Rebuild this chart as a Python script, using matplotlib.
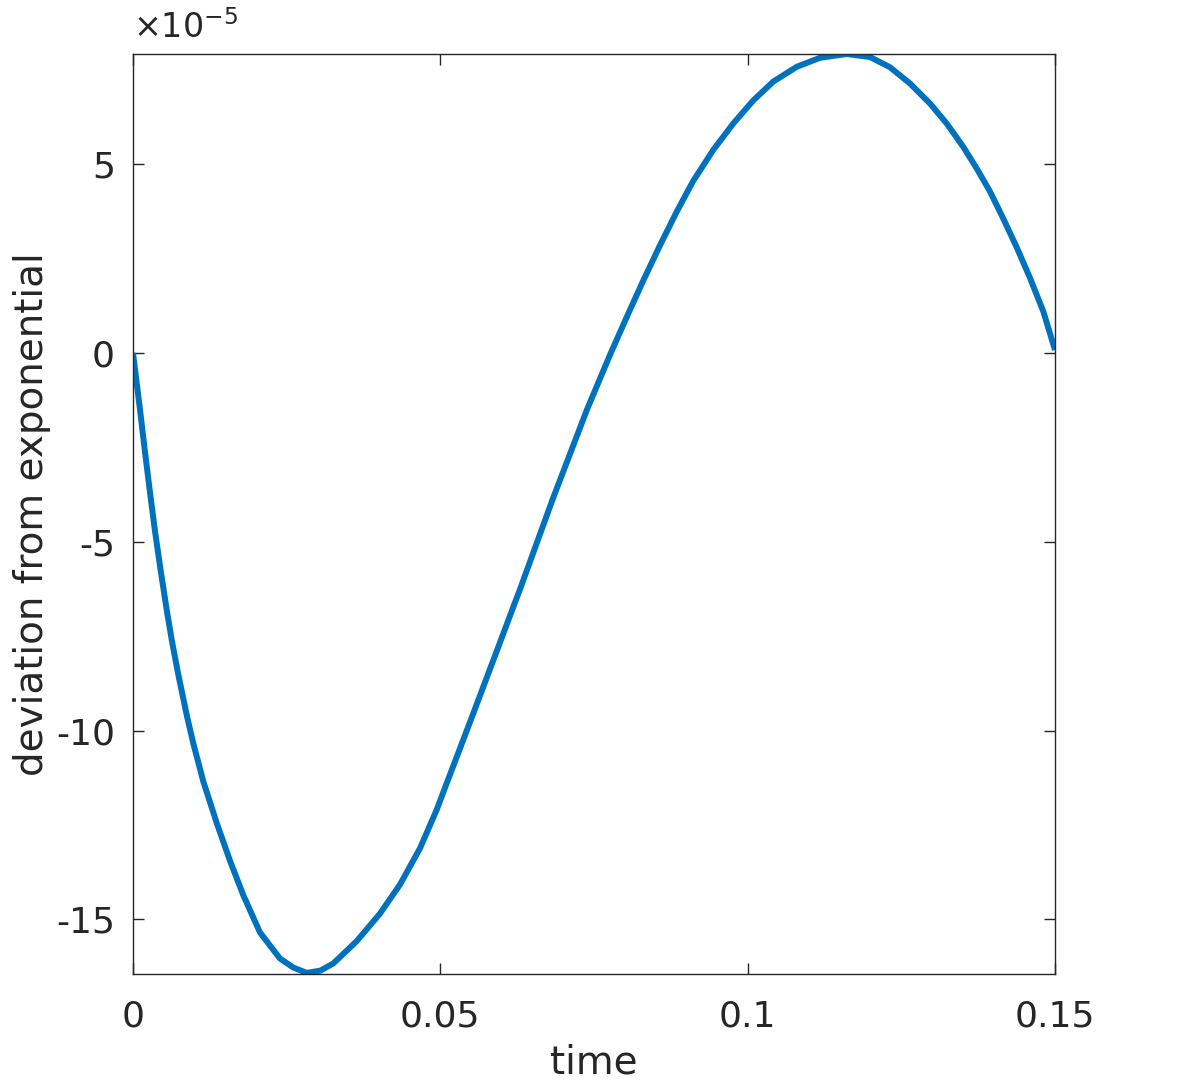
import numpy as np
import matplotlib
matplotlib.use('Agg')
import matplotlib.pyplot as plt

plt.rcParams['font.family'] = 'DejaVu Sans'
plt.rcParams['axes.unicode_minus'] = False

# curva (desvio em unidades de 1e-5)
tempo = [0.0, 0.00114, 0.00195, 0.00277, 0.00358, 0.00439, 0.00548, 0.0063,
         0.00737, 0.00874, 0.00981, 0.01144, 0.01362, 0.01578, 0.01794, 0.02066,
         0.02391, 0.0261, 0.02826, 0.0305, 0.03259, 0.03639, 0.04018, 0.04344,
         0.04669, 0.04941, 0.05103, 0.05482, 0.05857, 0.06182, 0.06296, 0.06833,
         0.07386, 0.0776, 0.08032, 0.08302, 0.08573, 0.08845, 0.09115, 0.09441,
         0.09766, 0.10091, 0.10417, 0.10797, 0.11177, 0.11611, 0.1199, 0.12315,
         0.12641, 0.12966, 0.13238, 0.13508, 0.13726, 0.13942, 0.14159, 0.14377,
         0.14593, 0.1481, 0.15]
desvio = [0.0, -1.50, -2.62, -3.70, -4.72, -5.64, -6.80, -7.60,
          -8.52, -9.59, -10.34, -11.35, -12.45, -13.45, -14.36, -15.35,
          -16.04, -16.28, -16.42, -16.36, -16.17, -15.58, -14.85, -14.08,
          -13.12, -12.10, -11.40, -9.78, -8.16, -6.75, -6.26, -3.85,
          -1.50, -0.05, 0.95, 1.92, 2.85, 3.74, 4.56, 5.38,
          6.08, 6.69, 7.19, 7.58, 7.82, 7.92, 7.84, 7.57,
          7.14, 6.61, 6.08, 5.46, 4.89, 4.28, 3.56, 2.80,
          1.99, 1.10, 0.08]

x_ticks = [0, 0.05, 0.1, 0.15]
x_tick_labels = ['0', '0.05', '0.1', '0.15']
y_ticks = [-15, -10, -5, 0, 5]

cor_eixo = '#262626'

fig = plt.figure(figsize=(11.96, 10.89), dpi=100)
ax = fig.add_axes([0.1112, 0.1056, 0.7709, 0.8448])

ax.plot(tempo, desvio, color='#0072BD', linewidth=4.3,
        solid_capstyle='butt', solid_joinstyle='round')

ax.set_xlim(0, 0.15)
ax.set_ylim(-16.45, 7.92)
ax.set_xticks(x_ticks)
ax.set_xticklabels(x_tick_labels)
ax.set_yticks(y_ticks)

ax.tick_params(direction='in', length=8, width=1.0, top=True, right=True,
               labelsize=26, colors=cor_eixo)
ax.tick_params(axis='x', pad=18)
ax.tick_params(axis='y', pad=13)
for s in ax.spines.values():
    s.set_color(cor_eixo)
    s.set_linewidth(1.0)

ax.set_xlabel('time', fontsize=28, color=cor_eixo)
ax.set_ylabel('deviation from exponential', fontsize=28, color=cor_eixo)
ax.xaxis.set_label_coords(0.5, -0.075)
ax.yaxis.set_label_coords(-0.089, 0.5)

# multiplicador estilo MATLAB
ax.text(0.0, 1.01, r'$\times$10$^{\mathregular{-5}}$', transform=ax.transAxes,
        fontsize=24, color=cor_eixo, ha='left', va='bottom')

fig.savefig('out.png', dpi=100)
